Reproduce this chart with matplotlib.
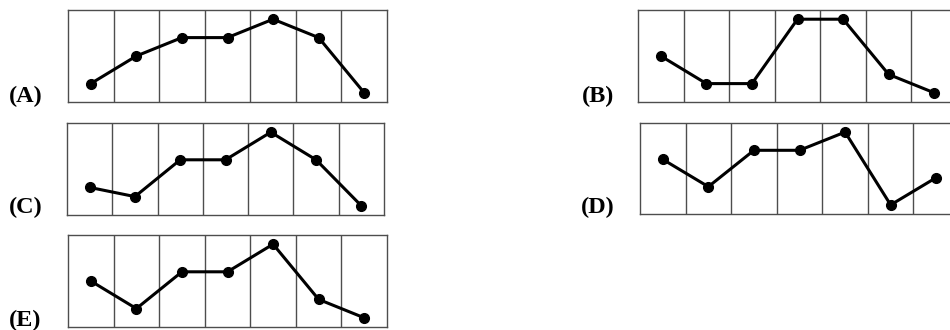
import numpy as np
import matplotlib
matplotlib.use('Agg')
import matplotlib.pyplot as plt

# seven columns per panel, one point in each
labels = ['(A)', '(B)', '(C)', '(D)', '(E)']
vals_a = [2, 5, 7, 7, 9, 7, 1]
vals_b = [5, 2, 2, 9, 9, 3, 1]
vals_c = [3, 2, 6, 6, 9, 6, 1]
vals_d = [6, 3, 7, 7, 9, 1, 4]
vals_e = [5, 2, 6, 6, 9, 3, 1]
series = [vals_a, vals_b, vals_c, vals_d, vals_e]

W, H = 950, 330
# panel boxes in pixels: left, top, right, bottom
boxes = [(68, 10, 387, 102),
         (638, 10, 957, 102),
         (67, 123, 384, 215),
         (640, 123, 959, 214),
         (68, 235, 387, 327)]
label_pos = [(9, 102), (582, 102), (9, 213), (581, 213), (9, 326)]

fig = plt.figure(figsize=(W/100, H/100), dpi=100)

for lab, vals, (l, t, r, b), (lx, ly) in zip(labels, series, boxes, label_pos):
    ax = fig.add_axes([l/W, 1-b/H, (r-l)/W, (b-t)/H])
    n = len(vals)
    x = np.arange(n) + 0.5
    ax.plot(x, vals, color='black', lw=2.2, marker='o', ms=7, zorder=3,
            clip_on=False)
    for k in range(1, n):
        ax.axvline(k, color='#4d4d4d', lw=1.0)
    ax.set_xlim(0, n)
    ax.set_ylim(0, 10)
    ax.set_xticks([])
    ax.set_yticks([])
    for s in ax.spines.values():
        s.set_color('#4d4d4d')
        s.set_linewidth(1.0)
    fig.text(lx/W, 1-ly/H, lab, fontsize=17.5, fontweight='bold',
             family='Liberation Serif', ha='left', va='baseline')

fig.savefig('out.png', dpi=100)
